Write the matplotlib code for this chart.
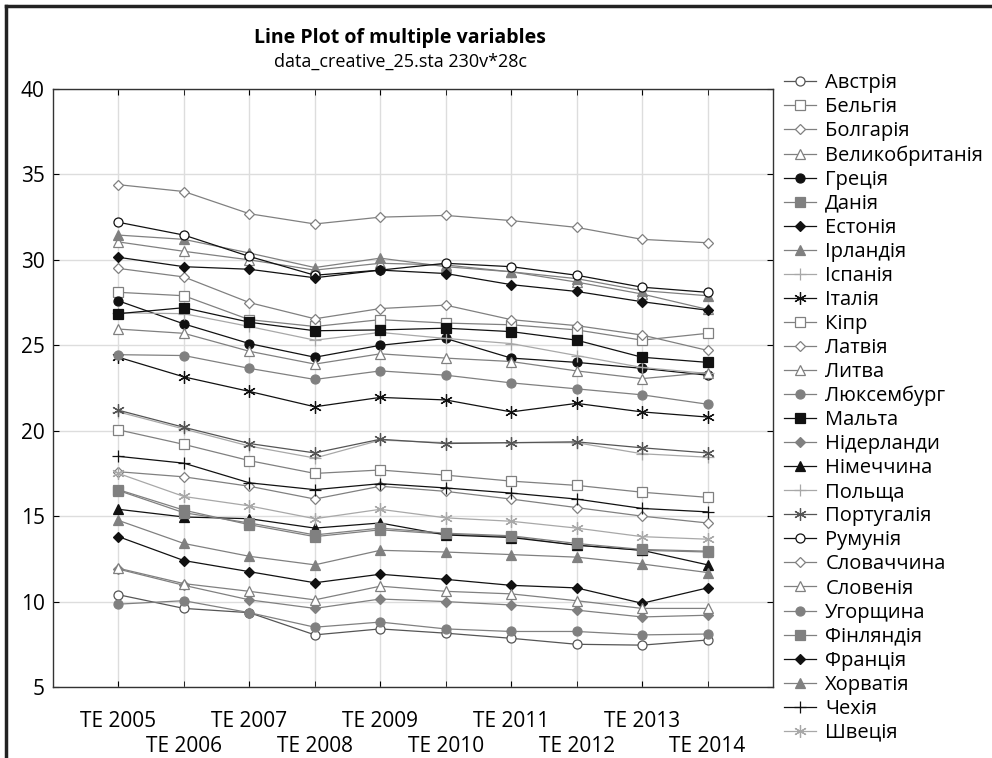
import numpy as np
import matplotlib.pyplot as plt
from matplotlib.lines import Line2D

plt.rcParams['font.family'] = ['Open Sans', 'DejaVu Sans']

# x categories
years = ['TE 2005', 'TE 2006', 'TE 2007', 'TE 2008', 'TE 2009',
         'TE 2010', 'TE 2011', 'TE 2012', 'TE 2013', 'TE 2014']

# values
avstriia = [10.4, 9.6, 9.35, 8.05, 8.4, 8.15, 7.85, 7.5, 7.45, 7.75]
belhiia = [28.1, 27.9, 26.5, 26.1, 26.5, 26.3, 26.2, 25.9, 25.3, 25.7]
bolhariia = [34.4, 34.0, 32.7, 32.1, 32.5, 32.6, 32.3, 31.9, 31.2, 31.0]
velykobrytaniia = [31.05, 30.5, 30.0, 29.4, 29.8, 29.7, 29.3, 28.7, 28.0, 27.1]
hretsiia = [27.6, 26.25, 25.1, 24.3, 25.0, 25.4, 24.25, 24.0, 23.65, 23.25]
daniia = [16.55, 15.35, 14.5, 13.8, 14.2, 13.95, 13.8, 13.3, 13.0, 12.9]
estoniia = [13.8, 12.4, 11.75, 11.1, 11.6, 11.3, 10.95, 10.8, 9.9, 10.8]
irlandiia = [31.45, 31.2, 30.4, 29.55, 30.1, 29.6, 29.3, 28.9, 28.2, 27.9]
ispaniia = [26.9, 26.85, 26.1, 25.3, 25.75, 25.4, 25.1, 24.4, 23.7, 23.35]
italiia = [24.3, 23.15, 22.3, 21.4, 21.95, 21.8, 21.1, 21.6, 21.1, 20.8]
kipr = [20.05, 19.2, 18.25, 17.5, 17.7, 17.4, 17.05, 16.8, 16.4, 16.1]
latviia = [29.5, 29.0, 27.5, 26.55, 27.15, 27.35, 26.5, 26.15, 25.6, 24.7]
lytva = [25.95, 25.7, 24.65, 23.9, 24.5, 24.25, 24.05, 23.5, 23.05, 23.4]
luxemburg = [24.45, 24.4, 23.65, 23.0, 23.5, 23.25, 22.8, 22.45, 22.1, 21.55]
malta = [26.85, 27.2, 26.35, 25.85, 25.9, 26.0, 25.8, 25.3, 24.3, 24.0]
niderlandy = [11.9, 10.95, 10.1, 9.6, 10.15, 10.0, 9.8, 9.5, 9.1, 9.2]
nimechchyna = [15.4, 14.95, 14.85, 14.3, 14.6, 13.9, 13.75, 13.3, 13.0, 12.15]
polshcha = [21.1, 20.1, 19.1, 18.4, 19.45, 19.3, 19.3, 19.3, 18.65, 18.45]
portuhaliia = [21.2, 20.2, 19.25, 18.7, 19.5, 19.25, 19.3, 19.35, 19.0, 18.7]
rumuniia = [32.2, 31.45, 30.2, 29.1, 29.4, 29.8, 29.6, 29.1, 28.4, 28.1]
slovachchyna = [17.6, 17.3, 16.75, 16.0, 16.75, 16.45, 16.0, 15.5, 15.0, 14.6]
sloveniia = [11.95, 11.05, 10.6, 10.1, 10.9, 10.6, 10.45, 10.05, 9.6, 9.6]
uhorshchyna = [9.85, 10.05, 9.35, 8.5, 8.8, 8.4, 8.25, 8.25, 8.05, 8.1]
finliandiia = [16.5, 15.2, 14.6, 13.9, 14.3, 14.0, 13.85, 13.4, 13.05, 12.95]
frantsiia = [30.15, 29.6, 29.45, 28.95, 29.4, 29.2, 28.55, 28.15, 27.55, 27.05]
khorvatiia = [14.75, 13.4, 12.65, 12.15, 13.0, 12.9, 12.75, 12.6, 12.2, 11.7]
chekhiia = [18.5, 18.1, 16.95, 16.55, 16.9, 16.65, 16.35, 16.0, 15.45, 15.25]
shvetsiia = [17.5, 16.15, 15.6, 14.85, 15.4, 14.9, 14.7, 14.3, 13.8, 13.65]

names = ['Австрія', 'Бельгія', 'Болгарія', 'Великобританія', 'Греція', 'Данія',
         'Естонія', 'Ірландія', 'Іспанія', 'Італія', 'Кіпр', 'Латвія', 'Литва',
         'Люксембург', 'Мальта', 'Нідерланди', 'Німеччина', 'Польща',
         'Португалія', 'Румунія', 'Словаччина', 'Словенія', 'Угорщина',
         'Фінляндія', 'Франція', 'Хорватія', 'Чехія', 'Швеція']
series = [avstriia, belhiia, bolhariia, velykobrytaniia, hretsiia, daniia,
          estoniia, irlandiia, ispaniia, italiia, kipr, latviia, lytva,
          luxemburg, malta, niderlandy, nimechchyna, polshcha, portuhaliia,
          rumuniia, slovachchyna, sloveniia, uhorshchyna, finliandiia,
          frantsiia, khorvatiia, chekhiia, shvetsiia]

# styles: (marker, line colour, filled)
gray = '#808080'
dark = '#555555'
light = '#a8a8a8'
black = '#111111'
star = (6, 2, 0)
styles = [
    ('o', dark, False), ('s', gray, False), ('D', gray, False), ('^', gray, False),
    ('o', black, True), ('s', gray, True), ('D', black, True), ('^', gray, True),
    ('+', light, True), (star, black, True), ('s', gray, False), ('D', gray, False),
    ('^', gray, False), ('o', gray, True), ('s', black, True), ('D', gray, True),
    ('^', black, True), ('+', light, True), (star, dark, True), ('o', black, False),
    ('D', gray, False), ('^', gray, False), ('o', gray, True), ('s', gray, True),
    ('D', black, True), ('^', gray, True), ('+', black, True), (star, light, True),
]

fig = plt.figure(figsize=(9.92, 7.58), dpi=100)
ax = fig.add_axes([53/992, 1-687/758, (773-53)/992, (687-89)/758])

x = np.arange(len(years))
for name, vals, (mk, col, filled) in zip(names, series, styles):
    size = 5.5 if mk == 'D' else 6.5
    if mk == '+' or mk == star:
        size = 9
    ax.plot(x, vals, color=col, lw=0.9, marker=mk, markersize=size,
            markerfacecolor=col if filled else 'white',
            markeredgecolor=col, markeredgewidth=0.9, label=name)

ax.set_xlim(-1, 10)
ax.set_ylim(5, 40)
ax.set_yticks([5, 10, 15, 20, 25, 30, 35, 40])
# staggered x labels: even years on the upper row, odd years on the lower row
ax.set_xticks(x[::2])
ax.set_xticklabels(years[::2])
ax.set_xticks(x[1::2], minor=True)
ax.set_xticklabels(years[1::2], minor=True)
ax.grid(True, which='both', color='#dddddd', lw=1.0)
ax.set_axisbelow(True)
ax.tick_params(which='both', direction='in', length=4, labelsize=15, top=True, right=True)
ax.tick_params(axis='x', which='major', pad=17)
ax.tick_params(axis='x', which='minor', pad=35)
ax.tick_params(axis='y', pad=6)
for sp in ax.spines.values():
    sp.set_color('#333333')
    sp.set_linewidth(1.0)

fig.text(400/992, 1-38/758, 'Line Plot of multiple variables', ha='center', va='center',
         fontsize=14, fontweight='bold')
fig.text(400/992, 1-62/758, 'data_creative_25.sta 230v*28c', ha='center', va='center',
         fontsize=13)

fig.legend(loc='upper left', bbox_to_anchor=(784/992, 1-73/758), frameon=False,
           fontsize=14.5, handlelength=1.6, handletextpad=0.45, labelspacing=0.2,
           borderpad=0, borderaxespad=0)

# outer frame (left and top edges)
fig.add_artist(Line2D([6/992, 6/992], [0, 1-6/758], color='#222222', lw=2.5))
fig.add_artist(Line2D([6/992, 1], [1-6/758, 1-6/758], color='#222222', lw=2.5))

fig.savefig('out.png', dpi=100)
